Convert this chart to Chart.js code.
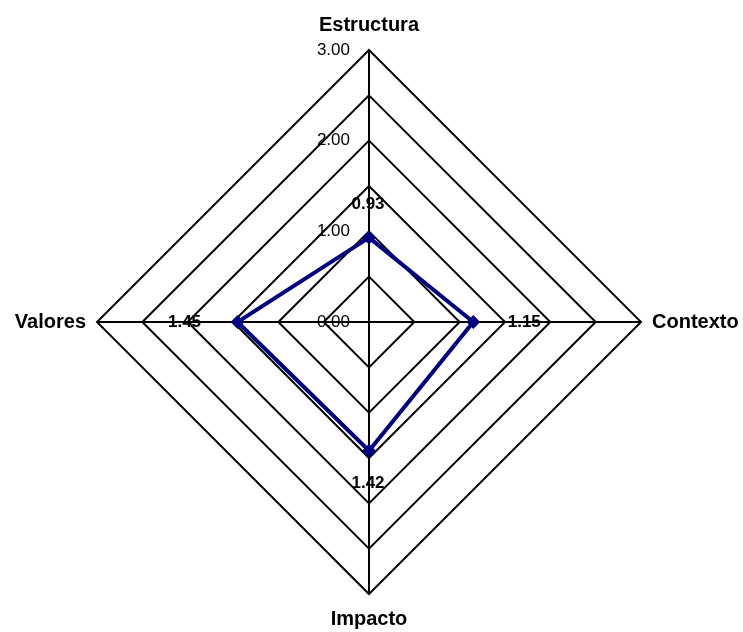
<!DOCTYPE html>
<html>
<head>
<meta charset="utf-8">
<script src="https://cdn.jsdelivr.net/npm/chart.js@4.4.0/dist/chart.umd.min.js"></script>
<style>
html, body { margin: 0; padding: 0; background: #fff; }
</style>
</head>
<body>
<canvas id="radar" width="743" height="632"></canvas>
<script>
const categories = ['Estructura', 'Contexto', 'Impacto', 'Valores'];
const scores = [0.93, 1.15, 1.42, 1.45];
const score_labels = ['0.93', '1.15', '1.42', '1.45'];
const tick_values = [0, 1, 2, 3];
const tick_labels = ['0.00', '1.00', '2.00', '3.00'];

const font_family = '"Liberation Sans", Arial, sans-serif';

// tick labels sit left of the vertical axis, axis names outside the tips,
// value labels pushed out from each point
const labels_plugin = {
    id: 'labels_plugin',
    afterDraw(chart) {
        const ctx = chart.ctx;
        const r = chart.scales.r;
        ctx.save();
        ctx.fillStyle = '#000';
        ctx.textBaseline = 'middle';

        ctx.font = '17px ' + font_family;
        ctx.textAlign = 'right';
        tick_values.forEach((v, i) => {
            const p = r.getPointPositionForValue(0, v);
            ctx.fillText(tick_labels[i], p.x - 19, p.y);
        });

        ctx.font = 'bold 20px ' + font_family;
        categories.forEach((c, i) => {
            const tip = r.getPointPosition(i, r.drawingArea);
            const dx = Math.round(Math.cos(tip.angle));
            const dy = Math.round(Math.sin(tip.angle));
            ctx.textAlign = dx > 0 ? 'left' : dx < 0 ? 'right' : 'center';
            ctx.fillText(c, tip.x + dx * 11, tip.y + dy * 25);
        });

        ctx.font = 'bold 17px ' + font_family;
        ctx.textAlign = 'center';
        scores.forEach((v, i) => {
            const p = r.getPointPositionForValue(i, v);
            const dx = Math.round(Math.cos(p.angle));
            const dy = Math.round(Math.sin(p.angle));
            ctx.fillText(score_labels[i], p.x + dx * 52 - 1, p.y + dy * 33);
        });
        ctx.restore();
    }
};

new Chart(document.getElementById('radar'), {
    type: 'radar',
    data: {
        labels: categories,
        datasets: [{
            label: 'Puntaje',
            data: scores,
            fill: false,
            borderColor: '#000080',
            borderWidth: 4,
            pointStyle: 'rectRot',
            pointRadius: 5.5,
            pointBackgroundColor: '#000080',
            pointBorderColor: '#000080',
            pointBorderWidth: 2
        }]
    },
    options: {
        responsive: false,
        animation: false,
        devicePixelRatio: 1,
        layout: {
            padding: { top: 50, bottom: 38, left: 97, right: 102 }
        },
        plugins: {
            legend: { display: false },
            tooltip: { enabled: false }
        },
        scales: {
            r: {
                min: 0,
                max: 3,
                ticks: {
                    stepSize: 0.5,
                    display: false
                },
                grid: {
                    color: '#000',
                    lineWidth: 2
                },
                angleLines: {
                    color: '#000',
                    lineWidth: 2
                },
                pointLabels: { display: false }
            }
        }
    },
    plugins: [labels_plugin]
});
</script>
</body>
</html>
